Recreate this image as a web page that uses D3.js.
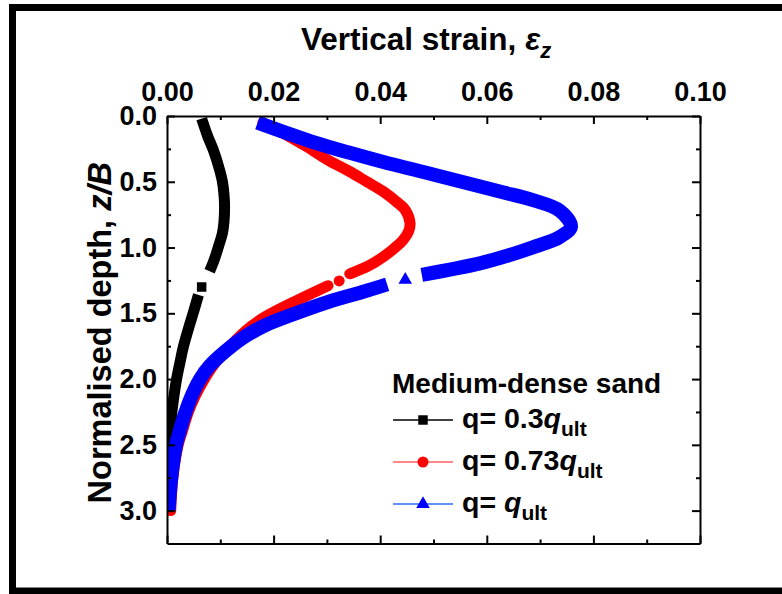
<!DOCTYPE html>
<html>
<head>
<meta charset="utf-8">
<script src="https://cdn.jsdelivr.net/npm/d3@7"></script>
<style>
  body { margin: 0; background: #fff; }
  svg text { font-family: "Liberation Sans", Arial, sans-serif; font-weight: bold; fill: #000; }
</style>
</head>
<body>
<div id="chart" style="width:782px;height:594px"></div>
<script>
// axis ticks
const strainMajor = [0, 0.02, 0.04, 0.06, 0.08, 0.10];
const strainMinor = [0.01, 0.03, 0.05, 0.07, 0.09];
const depthMajor = [0, 0.5, 1.0, 1.5, 2.0, 2.5, 3.0];
const depthMinor = [0.25, 0.75, 1.25, 1.75, 2.25, 2.75];

// q = 0.3 qult (black squares)
const lowDepthUpper  = [0.02, 0.15, 0.26, 0.40, 0.50, 0.60, 0.69, 0.80, 0.89, 1.00, 1.10, 1.18];
const lowStrainUpper = [0.0065, 0.0076, 0.0087, 0.0098, 0.0104, 0.0107, 0.0108, 0.0107, 0.0104, 0.0096, 0.0088, 0.0080];
const lowDepthLower  = [1.36, 1.50, 1.62, 1.75, 1.88, 2.00, 2.13, 2.26, 2.40, 2.60, 2.80, 3.00];
const lowStrainLower = [0.0059, 0.0049, 0.0040, 0.0031, 0.0024, 0.0018, 0.0013, 0.0009, 0.0007, 0.0005, 0.0004, 0.0003];
const lowMarker = [1.30, 0.0065];

// q = 0.73 qult (red circles)
const midDepthUpper  = [0.05, 0.13, 0.233, 0.33, 0.423, 0.50, 0.575, 0.65, 0.714, 0.815, 0.88, 0.942, 1.00, 1.07, 1.14, 1.20];
const midStrainUpper = [0.0180, 0.0218, 0.0262, 0.0300, 0.0343, 0.0375, 0.0406, 0.0430, 0.0447, 0.0456, 0.0453, 0.0443, 0.0428, 0.0406, 0.0378, 0.0343];
const midDepthLower  = [1.29, 1.40, 1.525, 1.60, 1.70, 1.80, 1.90, 2.00, 2.12, 2.25, 2.38, 2.50, 2.75, 3.00];
const midStrainLower = [0.0302, 0.0245, 0.0185, 0.0158, 0.0130, 0.0106, 0.0086, 0.0070, 0.0054, 0.0040, 0.0030, 0.0021, 0.0011, 0.0007];
const midMarker = [1.254, 0.0323];

// q = qult (blue triangles)
const ultDepthUpper  = [0.05, 0.13, 0.207, 0.28, 0.35, 0.43, 0.51, 0.58, 0.638, 0.72, 0.84, 0.92, 1.00, 1.06, 1.12, 1.208];
const ultStrainUpper = [0.0170, 0.0225, 0.0281, 0.0343, 0.0406, 0.0485, 0.0562, 0.0630, 0.0685, 0.0737, 0.0758, 0.0737, 0.0685, 0.0640, 0.0587, 0.0478];
const ultDepthLower  = [1.28, 1.34, 1.41, 1.51, 1.59, 1.68, 1.78, 1.90, 2.00, 2.13, 2.26, 2.38, 2.50, 2.75, 3.00];
const ultStrainLower = [0.0413, 0.0365, 0.0305, 0.0235, 0.0185, 0.0145, 0.0112, 0.0080, 0.0062, 0.0046, 0.0034, 0.0025, 0.0017, 0.0008, 0.0003];
const ultMarker = [1.246, 0.0447];

const legendTitle = "Medium-dense sand";
const legendFactors = ["0.3", "0.73", ""];

const margin = {top: 116, left: 167, right: 82, bottom: 50.5};
const width = 782, height = 594;

const svg = d3.select("#chart").append("svg")
    .attr("width", width)
    .attr("height", height);

// outer frame
svg.append("rect")
    .attr("x", 12.5).attr("y", 7.5)
    .attr("width", 800).attr("height", 583.5)
    .attr("fill", "none").attr("stroke", "#000").attr("stroke-width", 7);

const x = d3.scaleLinear().domain([0, 0.10]).range([margin.left, width - margin.right]);
const y = d3.scaleLinear().domain([0, 3.25]).range([margin.top, height - margin.bottom]);

svg.append("clipPath").attr("id", "plot-clip")
  .append("rect")
    .attr("x", x(0)).attr("y", y(0) - 20)
    .attr("width", x(0.10) - x(0)).attr("height", y(3.25) - y(0) + 20);

// the bands are very dense symbols, drawn here as thick lines
const line = d3.line()
    .x(d => x(d[1]))
    .y(d => y(d[0]))
    .curve(d3.curveCatmullRom.alpha(0.5));

const zip = (a, b) => a.map((v, i) => [v, b[i]]);

const series = [
  {color: "#000000", legendColor: "#000000", width: 11, cap: "butt", symbol: d3.symbolSquare, size: 90,
   parts: [zip(lowDepthUpper, lowStrainUpper), zip(lowDepthLower, lowStrainLower)], marker: lowMarker},
  {color: "#ff0000", legendColor: "#ff6060", width: 11, cap: "round", symbol: d3.symbolCircle, size: 95,
   parts: [zip(midDepthUpper, midStrainUpper), zip(midDepthLower, midStrainLower)], marker: midMarker},
  {color: "#0000ff", legendColor: "#2a6cff", width: 14, cap: "butt", symbol: d3.symbolTriangle, size: 80,
   parts: [zip(ultDepthUpper, ultStrainUpper), zip(ultDepthLower, ultStrainLower)], marker: ultMarker}
];

const plot = svg.append("g").attr("clip-path", "url(#plot-clip)");

series.forEach(s => {
  plot.selectAll(null)
    .data(s.parts)
    .enter().append("path")
      .attr("d", line)
      .attr("fill", "none")
      .attr("stroke", s.color)
      .attr("stroke-width", s.width)
      .attr("stroke-linecap", s.cap);
  plot.append("path")
      .attr("d", d3.symbol().type(s.symbol).size(s.size)())
      .attr("transform", `translate(${x(s.marker[1])},${y(s.marker[0])})`)
      .attr("fill", s.color);
});

// axes
function styleAxis(g, fontSize) {
  g.selectAll("path.domain").attr("stroke-width", 2);
  g.selectAll(".tick line").attr("stroke-width", 2);
  g.selectAll(".tick text").attr("font-size", fontSize).attr("fill", "#000")
      .attr("font-family", "'Liberation Sans', Arial, sans-serif").attr("font-weight", "bold");
}

svg.append("g")
    .attr("transform", `translate(0,${y(0)})`)
    .call(d3.axisTop(x).tickValues(strainMajor).tickSize(-8).tickSizeOuter(0)
      .tickPadding(15).tickFormat(d3.format(".2f")))
    .call(g => styleAxis(g, 27));
svg.append("g")
    .attr("transform", `translate(0,${y(0)})`)
    .call(d3.axisTop(x).tickValues(strainMinor).tickSize(-4).tickFormat(""))
    .call(g => g.select(".domain").remove())
    .call(g => styleAxis(g, 0));

svg.append("g")
    .attr("transform", `translate(0,${y(3.25)})`)
    .call(d3.axisBottom(x).tickValues(strainMajor).tickSize(-8).tickSizeOuter(0).tickFormat(""))
    .call(g => styleAxis(g, 0));
svg.append("g")
    .attr("transform", `translate(0,${y(3.25)})`)
    .call(d3.axisBottom(x).tickValues(strainMinor).tickSize(-4).tickFormat(""))
    .call(g => g.select(".domain").remove())
    .call(g => styleAxis(g, 0));

svg.append("g")
    .attr("transform", `translate(${x(0)},0)`)
    .call(d3.axisLeft(y).tickValues(depthMajor).tickSize(-8).tickSizeOuter(0)
      .tickPadding(10).tickFormat(d3.format(".1f")))
    .call(g => styleAxis(g, 27));
svg.append("g")
    .attr("transform", `translate(${x(0)},0)`)
    .call(d3.axisLeft(y).tickValues(depthMinor).tickSize(-4).tickFormat(""))
    .call(g => g.select(".domain").remove())
    .call(g => styleAxis(g, 0));

svg.append("g")
    .attr("transform", `translate(${x(0.10)},0)`)
    .call(d3.axisRight(y).tickValues(depthMajor).tickSize(-8).tickSizeOuter(0).tickFormat(""))
    .call(g => styleAxis(g, 0));
svg.append("g")
    .attr("transform", `translate(${x(0.10)},0)`)
    .call(d3.axisRight(y).tickValues(depthMinor).tickSize(-4).tickFormat(""))
    .call(g => g.select(".domain").remove())
    .call(g => styleAxis(g, 0));

// axis titles
const title = svg.append("text")
    .attr("x", 301).attr("y", 50)
    .attr("font-size", 31.5);
title.append("tspan").text("Vertical strain, ");
title.append("tspan").attr("font-style", "italic").text("\u03b5");
title.append("tspan").attr("font-style", "italic").attr("font-size", 22).attr("dy", 8).text("z");

const yTitle = svg.append("text")
    .attr("transform", `translate(111,${(y(0) + y(3.25)) / 2 + 3}) rotate(-90)`)
    .attr("text-anchor", "middle")
    .attr("font-size", 32.5);
yTitle.append("tspan").text("Normalised depth, ");
yTitle.append("tspan").attr("font-style", "italic").text("z/B");

// legend
const legend = svg.append("g").attr("transform", "translate(392,0)");
legend.append("text")
    .attr("x", 0).attr("y", 393)
    .attr("font-size", 28)
    .text(legendTitle);

series.forEach((s, i) => {
  const ly = 420 + i * 42;
  legend.append("line")
      .attr("x1", 1).attr("x2", 61)
      .attr("y1", ly).attr("y2", ly)
      .attr("stroke", s.legendColor).attr("stroke-width", 1.5);
  legend.append("path")
      .attr("d", d3.symbol().type(s.symbol).size(s.size)())
      .attr("transform", `translate(31,${ly})`)
      .attr("fill", s.color);
  const t = legend.append("text")
      .attr("x", 70).attr("y", ly + 8)
      .attr("font-size", 28.5);
  t.append("tspan").text("q= " + legendFactors[i]);
  t.append("tspan").attr("font-style", "italic").text("q");
  t.append("tspan").attr("font-size", 21).attr("dy", 8).text("ult");
});
</script>
</body>
</html>
